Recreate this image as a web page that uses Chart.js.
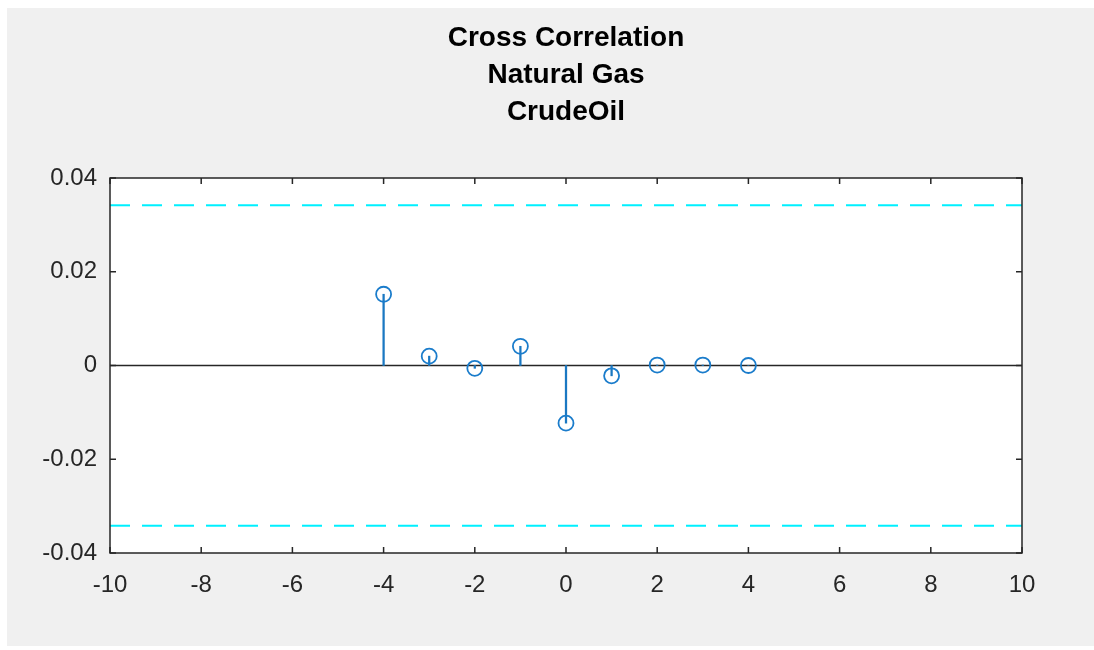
<!DOCTYPE html>
<html>
<head>
<meta charset="utf-8">
<script src="https://cdn.jsdelivr.net/npm/chart.js@4"></script>
<style>
  html, body { margin: 0; padding: 0; background: #ffffff; overflow: hidden; }
  #frame { position: absolute; left: 7px; top: 8px; width: 1087px; height: 638px; background: #f0f0f0; overflow: hidden; }
  canvas { display: block; }
</style>
</head>
<body>
<div id="frame"><canvas id="c" width="1118" height="638"></canvas></div>
<script>
const titleLines = ['Cross Correlation', 'Natural Gas', 'CrudeOil'];
const lags = [-4, -3, -2, -1, 0, 1, 2, 3, 4];
const xcorrValues = [0.0152, 0.0020, -0.0006, 0.0041, -0.0123, -0.0022, 0.0001, 0.0001, 0.0000];
const confidenceBound = 0.0342;
const xRange = [-10, 10];
const xTickValues = [-10, -8, -6, -4, -2, 0, 2, 4, 6, 8, 10];
const xTickLabels = ['-10', '-8', '-6', '-4', '-2', '0', '2', '4', '6', '8', '10'];
const yTickValues = [-0.04, -0.02, 0, 0.02, 0.04];
const yTickLabels = ['-0.04', '-0.02', '0', '0.02', '0.04'];

const axisColor = '#262626';

const pts = lags.map((l, i) => ({ x: l, y: xcorrValues[i] }));

const boxPlugin = {
  id: 'boxPlugin',
  beforeDatasetsDraw(chart) {
    const { ctx, chartArea: a } = chart;
    ctx.save();
    ctx.fillStyle = '#ffffff';
    ctx.fillRect(a.left, a.top, a.right - a.left, a.bottom - a.top);
    ctx.restore();
  },
  afterDatasetsDraw(chart) {
    const { ctx, chartArea: a, scales } = chart;
    ctx.save();
    ctx.strokeStyle = axisColor;
    ctx.lineWidth = 1.5;
    ctx.strokeRect(a.left, a.top, a.right - a.left, a.bottom - a.top);
    const tl = 6;
    ctx.beginPath();
    xTickValues.forEach(v => {
      const px = scales.x.getPixelForValue(v);
      ctx.moveTo(px, a.bottom); ctx.lineTo(px, a.bottom - tl);
      ctx.moveTo(px, a.top); ctx.lineTo(px, a.top + tl);
    });
    yTickValues.forEach(v => {
      const py = scales.y.getPixelForValue(v);
      ctx.moveTo(a.left, py); ctx.lineTo(a.left + tl, py);
      ctx.moveTo(a.right, py); ctx.lineTo(a.right - tl, py);
    });
    ctx.stroke();
    ctx.restore();
  }
};

new Chart(document.getElementById('c'), {
  type: 'scatter',
  data: {
    datasets: [
      {
        type: 'scatter',
        data: pts,
        showLine: false,
        pointStyle: 'circle',
        pointRadius: 7.5,
        pointBorderWidth: 1.8,
        borderColor: '#1a7ccb',
        backgroundColor: 'rgba(0,0,0,0)',
        pointBackgroundColor: 'rgba(0,0,0,0)'
      },
      {
        type: 'bar',
        data: pts,
        backgroundColor: '#1a78c2',
        borderWidth: 0,
        barThickness: 1.6
      },
      {
        type: 'line',
        data: [{ x: xRange[0], y: 0 }, { x: xRange[1], y: 0 }],
        borderColor: axisColor,
        borderWidth: 1.6,
        pointRadius: 0
      },
      {
        type: 'line',
        data: [{ x: xRange[0], y: confidenceBound }, { x: xRange[1], y: confidenceBound }],
        borderColor: '#00f0ff',
        borderWidth: 2,
        borderDash: [20, 12],
        pointRadius: 0
      },
      {
        type: 'line',
        data: [{ x: xRange[0], y: -confidenceBound }, { x: xRange[1], y: -confidenceBound }],
        borderColor: '#00f0ff',
        borderWidth: 2,
        borderDash: [20, 12],
        pointRadius: 0
      }
    ]
  },
  options: {
    responsive: false,
    animation: false,
    layout: { padding: { left: 0, right: 0, top: 0, bottom: 0 } },
    plugins: {
      legend: { display: false },
      tooltip: { enabled: false },
      title: {
        display: true,
        text: titleLines,
        color: '#000000',
        font: { family: '"Liberation Sans", Arial, sans-serif', size: 28, weight: 'bold', lineHeight: '37px' },
        padding: { top: 12, bottom: 47 },
        align: 'center'
      }
    },
    scales: {
      x: {
        type: 'linear',
        min: xRange[0],
        max: xRange[1],
        offset: false,
        grid: { display: false, drawTicks: false },
        border: { display: false },
        afterBuildTicks(scale) { scale.ticks = xTickValues.map(v => ({ value: v })); },
        afterFit(scale) { scale.height = 93; },
        ticks: {
          color: axisColor,
          padding: 18,
          maxRotation: 0,
          autoSkip: false,
          font: { family: '"Liberation Sans", Arial, sans-serif', size: 24 },
          callback(v) { const i = xTickValues.indexOf(v); return i >= 0 ? xTickLabels[i] : ''; }
        }
      },
      y: {
        type: 'linear',
        position: 'left',
        min: -0.04,
        max: 0.04,
        grid: { display: false, drawTicks: false },
        border: { display: false },
        afterBuildTicks(scale) { scale.ticks = yTickValues.map(v => ({ value: v })); },
        afterFit(scale) { scale.width = 103; },
        ticks: {
          color: axisColor,
          padding: 13,
          autoSkip: false,
          font: { family: '"Liberation Sans", Arial, sans-serif', size: 24 },
          callback(v) {
            const i = yTickValues.findIndex(t => Math.abs(t - v) < 1e-9);
            return i >= 0 ? yTickLabels[i] : '';
          }
        }
      },
      yBalance: {
        type: 'linear',
        position: 'right',
        min: -0.04,
        max: 0.04,
        grid: { display: false, drawTicks: false },
        border: { display: false },
        ticks: { display: false },
        afterFit(scale) { scale.width = 103; }
      }
    }
  },
  plugins: [boxPlugin]
});
</script>
</body>
</html>
